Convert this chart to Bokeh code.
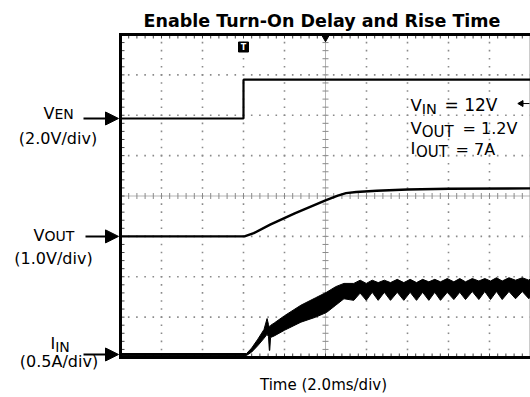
import numpy as np
from bokeh.plotting import figure
from bokeh.models import Range1d, Label, Arrow, NormalHead
from bokeh.embed import file_html
from bokeh.resources import INLINE

# ---------------- data (read from the scope shot) ----------------
# time in ms, 2.0 ms/div, 10 divisions
ven_t = [0.0, 6.0, 6.0, 20.0]
ven_v = [0.0, 0.0, 1.92, 1.92]

vout_t = [0.0, 6.05, 6.5, 7.3, 8.5, 10.0, 10.6, 11.0, 11.5, 12.5, 14.0, 16.0, 20.0]
vout_v = [0.0, 0.0, 0.08, 0.29, 0.57, 0.89, 1.01, 1.07, 1.10, 1.13, 1.16, 1.18, 1.19]

iin_t = [0.0, 6.15, 6.4, 6.7, 7.0, 7.15, 7.22, 7.26, 7.28, 7.32, 7.5, 8.0, 8.8, 9.5, 10.05, 10.5, 10.9,
         11.38, 11.69, 11.99, 12.28, 12.57, 12.87, 13.17, 13.5, 13.82, 14.13, 14.44, 14.74, 15.04,
         15.33, 15.61, 15.94, 16.26, 16.55, 16.83, 17.16, 17.48, 17.77, 18.05, 18.34, 18.62, 18.95,
         19.27, 19.6, 19.92, 20.0]
iin_hi = [0.012, 0.012, 0.08, 0.19, 0.31, 0.445, 0.37, 0.34, 0.34, 0.36, 0.39, 0.48, 0.61, 0.70, 0.77, 0.84, 0.88,
          0.88, 0.92, 0.88, 0.92, 0.89, 0.92, 0.89, 0.93, 0.89, 0.93, 0.89, 0.93, 0.90,
          0.93, 0.90, 0.94, 0.90, 0.94, 0.90, 0.94, 0.91, 0.94, 0.91, 0.95, 0.91, 0.95,
          0.92, 0.95, 0.92, 0.94]
iin_lo = [-0.012, -0.012, 0.03, 0.11, 0.20, 0.25, 0.22, 0.05, 0.05, 0.21, 0.23, 0.30, 0.40, 0.46, 0.52, 0.61, 0.69,
          0.67, 0.76, 0.67, 0.77, 0.67, 0.77, 0.67, 0.77, 0.67, 0.77, 0.67, 0.77, 0.67,
          0.77, 0.67, 0.77, 0.68, 0.77, 0.68, 0.78, 0.68, 0.78, 0.68, 0.78, 0.68, 0.78,
          0.69, 0.78, 0.69, 0.72]

# channel settings: units per division and reference position (div from bottom)
VEN_DIV, VEN_POS = 2.0, 5.92
VOUT_DIV, VOUT_POS = 1.0, 3.0
IIN_DIV, IIN_POS = 0.5, 0.075
TRIG_T = 6.0          # ms, trigger position
TRIG_LEVEL = 0.74     # V on the VEN channel

title_text = "Enable Turn-On Delay and Rise Time"
time_text = "Time (2.0ms/div)"

# ---------------- layout ----------------
FONT = "DejaVu Sans"
W, H = 530, 397
F_LEFT, F_TOP, F_BOTTOM = 120, 34, 357       # scope screen position in px
PX_X = 41 / 2.0                              # px per ms
PX_Y = (F_BOTTOM - F_TOP) / 8.0              # px per division

x0 = -F_LEFT / PX_X
x1 = (W - F_LEFT) / PX_X
y0 = -(H - F_BOTTOM) / PX_Y
y1 = 8 + F_TOP / PX_Y

p = figure(width=W, height=H, output_backend="svg", toolbar_location=None,
           x_range=Range1d(x0, x1), y_range=Range1d(y0, y1),
           x_axis_type=None, y_axis_type=None, title=None, min_border=0)
p.outline_line_color = None
p.xgrid.visible = False
p.ygrid.visible = False

p.extra_y_ranges = {
    "ven": Range1d((y0 - VEN_POS) * VEN_DIV, (y1 - VEN_POS) * VEN_DIV),
    "vout": Range1d((y0 - VOUT_POS) * VOUT_DIV, (y1 - VOUT_POS) * VOUT_DIV),
    "iin": Range1d((y0 - IIN_POS) * IIN_DIV, (y1 - IIN_POS) * IIN_DIV),
}

# ---------------- graticule ----------------
sub_x = list(np.linspace(0, 20, 51))
sub_y = list(np.linspace(0, 8, 41))
dx, dy = [], []
for xv in [2, 4, 6, 8, 12, 14, 16, 18]:
    for yv in sub_y:
        dx.append(xv); dy.append(yv)
for yv in [1, 2, 3, 5, 6, 7]:
    for xv in sub_x:
        dx.append(xv); dy.append(yv)
p.scatter(dx, dy, marker="square", size=1.6, fill_color="#8a8a8a", line_color=None)

p.line([10, 10], [0, 8], line_color="#b5b5b5", line_width=1)
p.line([0, 20], [4, 4], line_color="#b5b5b5", line_width=1)
p.scatter([10] * len(sub_y), sub_y, marker="dash", size=6, line_color="#8a8a8a", line_width=1)
p.scatter(sub_x, [4] * len(sub_x), marker="dash", angle=np.pi / 2, size=6, line_color="#8a8a8a", line_width=1)

# edge ticks
p.ray([0] * len(sub_y), sub_y, length=4, angle=0, length_units="screen", line_color="#444444", line_width=1)
p.ray(sub_x, [8] * len(sub_x), length=4, angle=-np.pi / 2, length_units="screen", line_color="#444444", line_width=1)
p.ray(sub_x, [0] * len(sub_x), length=4, angle=np.pi / 2, length_units="screen", line_color="#444444", line_width=1)

# screen border
p.line([20, 20], [0, 8], line_color="#9a9a9a", line_width=2)
p.line([20, 0, 0, 20], [8, 8, 0, 0], line_color="black", line_width=3, line_join="miter")

# ---------------- traces ----------------
p.line(ven_t, ven_v, y_range_name="ven", line_color="black", line_width=2.2)
p.line(vout_t, vout_v, y_range_name="vout", line_color="black", line_width=2.4)
p.varea(x=iin_t, y1=iin_lo, y2=iin_hi, y_range_name="iin", fill_color="black")
p.line(iin_t, iin_hi, y_range_name="iin", line_color="black", line_width=1)
p.line(iin_t, iin_lo, y_range_name="iin", line_color="black", line_width=1)

# trigger markers
p.scatter([10], [8 - 2 / PX_Y], marker="inverted_triangle", size=9, fill_color="black", line_color="black")
T_Y = 8 - 12.5 / PX_Y
p.scatter([TRIG_T], [T_Y], marker="square", size=10, fill_color="black", line_color="black")
p.add_layout(Label(x=TRIG_T, y=T_Y, text="T", text_color="white", text_font=FONT,
                   text_font_style="bold", text_font_size="8px", text_align="center",
                   text_baseline="middle"))
p.scatter([19.55], [TRIG_LEVEL], y_range_name="ven", marker="triangle", angle=np.pi / 2,
          size=6, fill_color="black", line_color="black")
p.line([19.55, 19.95], [TRIG_LEVEL, TRIG_LEVEL], y_range_name="ven", line_color="black", line_width=1)


# ---------------- texts ----------------
def X(px):
    return (px - F_LEFT) / PX_X


def Y(py):
    return (F_BOTTOM - py) / PX_Y


def txt(x, y, s, size, align="left", bold=False):
    corr = 0.3 * size            # renderer puts the alphabetic baseline a little low
    p.add_layout(Label(x=X(x), y=Y(y - corr), text=s, text_font=FONT, text_font_size=f"{size}px",
                       text_align=align, text_baseline="alphabetic", text_color="black",
                       text_font_style="bold" if bold else "normal"))


txt(321.5, 25.3, title_text, 17.5, "center", True)

txt(43, 118, "V", 16); txt(53.9, 118, "EN", 14)
txt(57.5, 142.5, "(2.0V/div)", 16, "center")
txt(33, 239.3, "V", 16); txt(43.9, 239.3, "OUT", 14)
txt(53, 262.7, "(1.0V/div)", 16, "center")
txt(50, 348, "I", 16); txt(54.7, 351, "IN", 14)
txt(58.5, 366, "(0.5A/div)", 16, "center")

txt(410, 110, "V", 16.5); txt(421.3, 113, "IN", 14.5); txt(444, 110, "= 12V", 17)
txt(410, 132.7, "V", 16.5); txt(421.3, 135.7, "OUT", 15); txt(462, 132.7, "= 1.2V", 16)
txt(410, 153.3, "I", 16.5); txt(415.5, 156.3, "OUT", 15); txt(455, 153.3, "= 7A", 16)

txt(323, 388.5, time_text, 15, "center")

for rng, xs in [("ven", 83), ("vout", 85), ("iin", 83)]:
    p.add_layout(Arrow(end=NormalHead(size=13, fill_color="black", line_color="black"),
                       x_start=X(xs), y_start=0, x_end=X(118), y_end=0, y_range_name=rng,
                       line_color="black", line_width=2))

open("out.html", "w").write(file_html(p, INLINE))
